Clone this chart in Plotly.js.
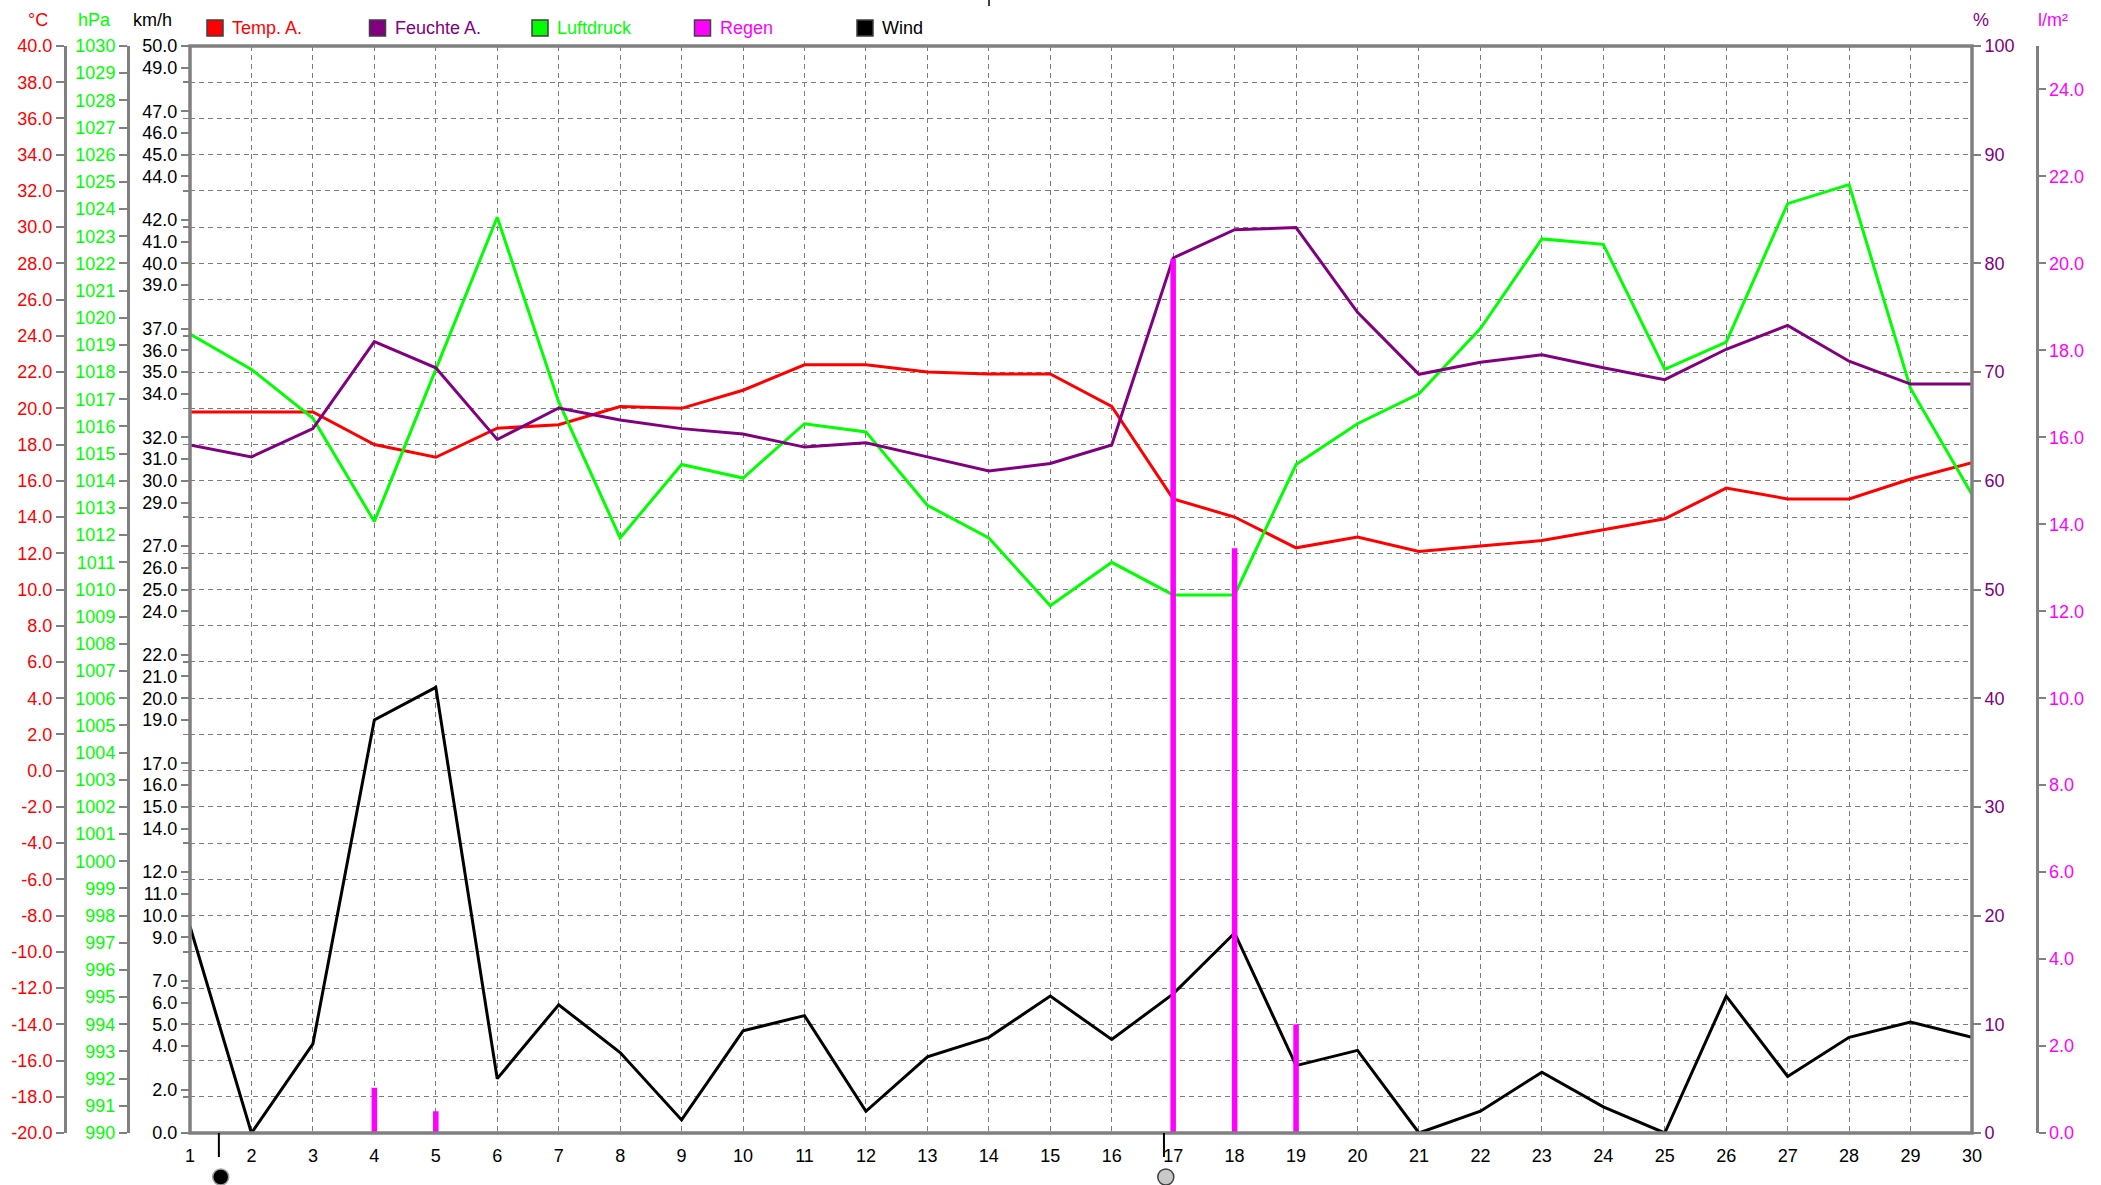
<!DOCTYPE html>
<html>
<head>
<meta charset="utf-8">
<script src="https://cdn.plot.ly/plotly-3.0.1.min.js"></script>
<style>html,body{margin:0;padding:0;background:#fff;overflow:hidden}</style>
</head>
<body>
<div id="chart" style="width:2101px;height:1185px"></div>
<script>
// ---- data ----
const days = [1,2,3,4,5,6,7,8,9,10,11,12,13,14,15,16,17,18,19,20,21,22,23,24,25,26,27,28,29,30];
const tempA = [19.8,19.8,19.8,18.0,17.3,18.9,19.1,20.1,20.0,21.0,22.4,22.4,22.0,21.9,21.9,20.1,15.0,14.0,12.3,12.9,12.1,12.4,12.7,13.3,13.9,15.6,15.0,15.0,16.1,17.0];
const feuchteA = [63.3,62.2,64.8,72.8,70.4,63.8,66.7,65.6,64.8,64.3,63.1,63.5,62.2,60.9,61.6,63.3,80.5,83.1,83.3,75.5,69.8,70.9,71.6,70.4,69.3,72.1,74.3,71.0,68.9,68.9];
const luftdruck = [1019.4,1018.1,1016.3,1012.5,1018.1,1023.7,1016.9,1011.9,1014.6,1014.1,1016.1,1015.8,1013.1,1011.9,1009.4,1011.0,1009.8,1009.8,1014.6,1016.1,1017.2,1019.6,1022.9,1022.7,1018.1,1019.1,1024.2,1024.9,1017.4,1013.5];
const regen = [0,0,0,1.04,0.5,0,0,0,0,0,0,0,0,0,0,0,20.1,13.45,2.5,0,0,0,0,0,0,0,0,0,0,0];
const wind = [9.5,0,4.1,19.0,20.5,2.5,5.9,3.7,0.6,4.7,5.4,1.0,3.5,4.4,6.3,4.3,6.4,9.2,3.1,3.8,0,1.0,2.8,1.2,0,6.3,2.6,4.4,5.1,4.4];

const tempTicks = [-20,-18,-16,-14,-12,-10,-8,-6,-4,-2,0,2,4,6,8,10,12,14,16,18,20,22,24,26,28,30,32,34,36,38,40];
const hpaTicks = [990,991,992,993,994,995,996,997,998,999,1000,1001,1002,1003,1004,1005,1006,1007,1008,1009,1010,1011,1012,1013,1014,1015,1016,1017,1018,1019,1020,1021,1022,1023,1024,1025,1026,1027,1028,1029,1030];
const windTicks = [0,2,4,5,6,7,9,10,11,12,14,15,16,17,19,20,21,22,24,25,26,27,29,30,31,32,34,35,36,37,39,40,41,42,44,45,46,47,49,50];
const humTicks = [0,10,20,30,40,50,60,70,80,90,100];
const rainTicks = [0,2,4,6,8,10,12,14,16,18,20,22,24];

const legendNames = ['Temp. A.','Feuchte A.','Luftdruck','Regen','Wind'];
const legendColors = ['#FF0000','#800080','#00FF00','#FF00FF','#000000'];
const unitLabels = ['°C','hPa','km/h','%','l/m²'];

const moonDays = [1.5, 16.88];
const moonFill = ['#000000','#c8c8c8'];
const moonLine = ['#a0a0a0','#404040'];

// ---- geometry (px on the 2101x1185 canvas) ----
const W = 2101, H = 1185;
const px = v => v / W, py = v => 1 - v / H;
const plotL = 190, plotR = 1972, plotT = 46, plotB = 1133;
const axisGrey = '#808080';
const gridGrey = '#7c7c7c';
const font = 'Liberation Sans, Arial, sans-serif';
const fs = 18;

const traces = [
  {x: days, y: tempA, yaxis: 'y', type: 'scatter', mode: 'lines', line: {color: legendColors[0], width: 3}, showlegend: false, hoverinfo: 'skip'},
  {x: days, y: luftdruck, yaxis: 'y2', type: 'scatter', mode: 'lines', line: {color: legendColors[2], width: 3}, showlegend: false, hoverinfo: 'skip'},
  {x: days, y: wind, yaxis: 'y3', type: 'scatter', mode: 'lines', line: {color: legendColors[4], width: 3}, showlegend: false, hoverinfo: 'skip'},
  {x: days, y: feuchteA, yaxis: 'y4', type: 'scatter', mode: 'lines', line: {color: legendColors[1], width: 3}, showlegend: false, hoverinfo: 'skip'},
  {x: days, y: regen, yaxis: 'y5', type: 'bar', width: 0.09, marker: {color: legendColors[3], line: {width: 0}}, showlegend: false, hoverinfo: 'skip'}
];

const baseY = {
  showgrid: false, zeroline: false, showline: true, linecolor: axisGrey, linewidth: 2.5,
  ticks: 'outside', ticklen: 8, tickwidth: 2, tickcolor: axisGrey,
  tickfont: {family: font, size: fs}, fixedrange: true
};

const domX = [px(plotL), px(plotR)];
const domY = [py(plotB), py(plotT)];

const layout = {
  width: W, height: H,
  margin: {l: 0, r: 0, t: 0, b: 0, pad: 0},
  paper_bgcolor: '#ffffff', plot_bgcolor: '#ffffff',
  showlegend: false,
  barmode: 'overlay',
  xaxis: {
    domain: domX, range: [1, 30], anchor: 'y',
    tickvals: days, ticktext: days.map(String),
    ticks: '', showline: false, zeroline: false, ticklabelstandoff: 10,
    showgrid: true, gridcolor: gridGrey, gridwidth: 1, griddash: '5px,4px',
    tickfont: {family: font, size: fs, color: '#000'}, fixedrange: true
  },
  yaxis: Object.assign({}, baseY, {
    domain: domY, range: [-20, 40], anchor: 'free', position: px(65), side: 'left',
    tickvals: tempTicks, ticktext: tempTicks.map(v => v.toFixed(1)),
    tickfont: {family: font, size: fs, color: legendColors[0]},
    showgrid: true, gridcolor: gridGrey, gridwidth: 1, griddash: '5px,4px'
  }),
  yaxis2: Object.assign({}, baseY, {
    domain: domY, range: [990, 1030], overlaying: 'y', anchor: 'free', position: px(128), side: 'left',
    tickvals: hpaTicks, ticktext: hpaTicks.map(String),
    tickfont: {family: font, size: fs, color: legendColors[2]}
  }),
  yaxis3: Object.assign({}, baseY, {
    domain: domY, range: [0, 50], overlaying: 'y', anchor: 'x', side: 'left',
    showline: false,
    tickvals: windTicks, ticktext: windTicks.map(v => v.toFixed(1)),
    tickfont: {family: font, size: fs, color: '#000'},
    minor: {dtick: 50 / 30, tick0: 0, ticks: 'outside', ticklen: 6, tickwidth: 1.5, tickcolor: axisGrey, showgrid: false}
  }),
  yaxis4: Object.assign({}, baseY, {
    domain: domY, range: [0, 100], overlaying: 'y', anchor: 'x', side: 'right',
    showline: false,
    tickvals: humTicks, ticktext: humTicks.map(String),
    tickfont: {family: font, size: fs, color: legendColors[1]}
  }),
  yaxis5: Object.assign({}, baseY, {
    domain: domY, range: [0, 25], overlaying: 'y', anchor: 'free', position: px(2037), side: 'right',
    ticklen: 7,
    tickvals: rainTicks, ticktext: rainTicks.map(v => v.toFixed(1)),
    tickfont: {family: font, size: fs, color: legendColors[3]}
  }),
  yaxis6: Object.assign({}, baseY, {
    domain: domY, range: [0, 25], overlaying: 'y', anchor: 'free', position: px(2037), side: 'right',
    showline: false, ticks: 'inside', ticklen: 7, showticklabels: false,
    tickvals: rainTicks
  }),
  shapes: [],
  annotations: []
};

// plot frame
layout.shapes.push({type: 'rect', xref: 'paper', yref: 'paper', x0: domX[0], x1: domX[1], y0: domY[0], y1: domY[1],
  line: {color: axisGrey, width: 3.5}, fillcolor: 'rgba(0,0,0,0)', layer: 'above'});

// small mark at top centre
layout.shapes.push({type: 'line', xref: 'paper', yref: 'paper', x0: px(989), x1: px(989), y0: py(0), y1: py(6), line: {color: '#000', width: 1.5}});

// moon phases: tick mark + disc below the axis
moonDays.forEach((d, i) => {
  layout.shapes.push({type: 'line', xref: 'x', yref: 'paper', x0: d - 0.03, x1: d - 0.03, y0: py(plotB), y1: py(plotB + 24), line: {color: '#000', width: 2}});
  layout.shapes.push({type: 'circle', xref: 'x', yref: 'paper', xsizemode: 'pixel', ysizemode: 'pixel',
    xanchor: d, yanchor: py(1177), x0: -8, x1: 8, y0: -8, y1: 8,
    fillcolor: moonFill[i], line: {color: moonLine[i], width: 1.5}});
});

// legend (squares + coloured labels)
const legX0 = 215, legStep = 162.5, legY = 28;
legendNames.forEach((n, i) => {
  const cx = legX0 + i * legStep;
  layout.shapes.push({type: 'rect', xref: 'paper', yref: 'paper',
    x0: px(cx - 8), x1: px(cx + 8), y0: py(legY + 8), y1: py(legY - 8),
    fillcolor: legendColors[i], line: {color: '#404040', width: 1.5}});
  layout.annotations.push({xref: 'paper', yref: 'paper', x: px(cx + 15), y: py(legY), xanchor: 'left', yanchor: 'middle',
    text: n, showarrow: false, font: {family: font, size: fs, color: legendColors[i]}});
});

// unit labels above the axes
const unitPos = [[38, 20], [94, 20], [152, 20], [1981, 20], [2053, 20]];
const unitColors = [legendColors[0], legendColors[2], '#000', legendColors[1], legendColors[3]];
unitLabels.forEach((u, i) => {
  layout.annotations.push({xref: 'paper', yref: 'paper', x: px(unitPos[i][0]), y: py(unitPos[i][1]), xanchor: 'center', yanchor: 'middle',
    text: u, showarrow: false, font: {family: font, size: fs, color: unitColors[i]}});
});

Plotly.newPlot('chart', traces, layout, {staticPlot: true, displayModeBar: false});
</script>
</body>
</html>
